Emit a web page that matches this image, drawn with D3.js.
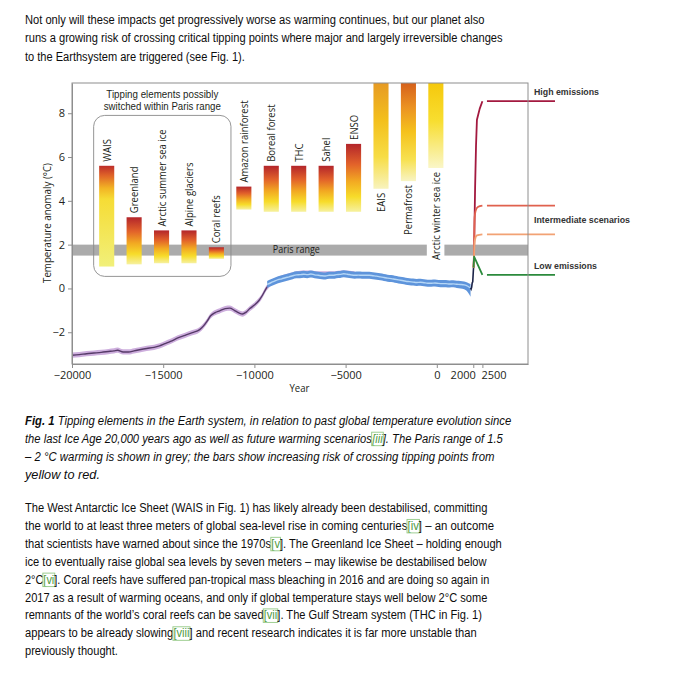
<!DOCTYPE html>
<html><head><meta charset="utf-8">
<script src="https://cdn.jsdelivr.net/npm/d3@7"></script>
<style>
html,body{margin:0;padding:0;background:#fff;}
svg{display:block;}
</style></head><body>
<svg id="page" width="680" height="676"></svg>
<script>
// ---------------- DATA ----------------
const barNames = ["WAIS","Greenland","Arctic summer sea ice","Alpine glaciers","Coral reefs","Amazon rainforest","Boreal forest","THC","Sahel","ENSO","EAIS","Permafrost","Arctic winter sea ice"];
const barLow  = [1.0, 1.1, 1.15, 1.15, 1.35, 3.6, 3.5, 3.5, 3.5, 3.5, 4.55, 4.9, 5.5];
const barHigh = [5.6, 3.25, 2.65, 2.65, 1.88, 4.65, 5.6, 5.6, 5.6, 6.6, 9.4, 9.4, 9.4];
const barGradient = ["wais","std","std","std","std","std","std","std","std","std","eais","perma","arctic"];
const barLabelBelow = [false,false,false,false,false,false,false,false,false,false,true,true,true];
const parisGroup = ["WAIS","Greenland","Arctic summer sea ice","Alpine glaciers","Coral reefs"];

const xTicks = [-20000,-15000,-10000,-5000,0,2000,2500];
const yTicks = [-2,0,2,4,6,8];
const parisRange = [1.5, 2.0];

// Shakun-type reconstruction [year, temp, sigma]
const shakun = [[-20000,-3.05,0.12],[-19600,-3.02,0.12],[-19200,-2.98,0.12],[-18800,-2.95,0.12],[-18400,-2.92,0.12],[-18000,-2.88,0.12],[-17700,-2.85,0.12],[-17500,-2.82,0.12],[-17200,-2.9,0.12],[-16900,-2.9,0.12],[-16600,-2.85,0.12],[-16300,-2.8,0.12],[-15900,-2.74,0.12],[-15500,-2.69,0.12],[-15200,-2.62,0.12],[-14900,-2.52,0.12],[-14600,-2.42,0.12],[-14200,-2.26,0.12],[-13800,-2.14,0.12],[-13400,-2.02,0.12],[-13000,-1.88,0.12],[-12800,-1.72,0.12],[-12600,-1.5,0.12],[-12400,-1.25,0.12],[-12150,-1.1,0.12],[-11900,-1.02,0.12],[-11600,-0.92,0.12],[-11350,-0.9,0.12],[-11100,-1.0,0.12],[-10850,-1.12,0.12],[-10650,-1.17,0.12],[-10450,-1.08,0.12],[-10250,-0.92,0.12],[-10000,-0.76,0.12],[-9750,-0.55,0.12],[-9550,-0.3,0.12],[-9350,0.0,0.12],[-9150,0.2,0.12],[-8800,0.38,0.12],[-8400,0.5,0.12],[-8000,0.6,0.12],[-7600,0.68,0.12],[-7200,0.7,0.12],[-6800,0.69,0.12],[-6400,0.66,0.12],[-6000,0.66,0.12],[-5600,0.67,0.12],[-5200,0.7,0.12],[-4800,0.69,0.12],[-4500,0.66,0.12]];

// Marcott-type reconstruction [year, temp, sigmaLow, sigmaHigh]
const marcott = [[-9300,0.18,0.16,0.16],[-9100,0.26,0.16,0.16],[-8900,0.33,0.16,0.16],[-8700,0.4,0.16,0.16],[-8500,0.44,0.16,0.16],[-8300,0.49,0.16,0.16],[-8100,0.53,0.16,0.16],[-7900,0.58,0.16,0.16],[-7700,0.62,0.16,0.16],[-7500,0.63,0.16,0.16],[-7300,0.65,0.16,0.16],[-7100,0.63,0.16,0.16],[-6900,0.66,0.16,0.16],[-6700,0.62,0.16,0.16],[-6500,0.6,0.16,0.16],[-6300,0.58,0.16,0.16],[-6100,0.57,0.16,0.16],[-5900,0.6,0.16,0.16],[-5700,0.6,0.16,0.16],[-5500,0.63,0.16,0.16],[-5300,0.64,0.16,0.16],[-5100,0.67,0.16,0.16],[-4900,0.65,0.16,0.16],[-4700,0.62,0.16,0.16],[-4500,0.6,0.16,0.16],[-4300,0.61,0.16,0.16],[-4100,0.6,0.16,0.16],[-3900,0.6,0.16,0.16],[-3700,0.6,0.16,0.16],[-3500,0.58,0.16,0.16],[-3300,0.56,0.16,0.16],[-3100,0.53,0.16,0.16],[-2900,0.5,0.16,0.16],[-2700,0.47,0.16,0.16],[-2500,0.45,0.16,0.16],[-2300,0.42,0.16,0.16],[-2100,0.39,0.16,0.16],[-1900,0.36,0.16,0.16],[-1700,0.33,0.16,0.16],[-1500,0.31,0.16,0.16],[-1300,0.29,0.16,0.16],[-1100,0.27,0.16,0.16],[-900,0.28,0.16,0.16],[-700,0.26,0.16,0.16],[-500,0.24,0.16,0.16],[-300,0.24,0.16,0.16],[-100,0.25,0.16,0.16],[100,0.23,0.16,0.16],[300,0.22,0.16,0.16],[500,0.22,0.16,0.16],[700,0.2,0.16,0.16],[900,0.21,0.16,0.16],[1100,0.19,0.17,0.16],[1300,0.18,0.18,0.16],[1500,0.16,0.2,0.16],[1700,0.1,0.27,0.16],[1850,0.02,0.4,0.18]];

// instrumental record [year, temp]
const instrumental = [[1850,0.02],[1880,-0.03],[1910,0.05],[1940,0.25],[1970,0.3],[2000,0.75],[2015,0.95]];

// future scenarios [year, temp]
const scenarioNames  = ["High emissions","Intermediate (upper)","Intermediate (lower)","Low emissions"];
const scenarioColors = ["#a3193f","#e0614e","#f2a274","#2b8a3c"];
const scenarioHigh  = [[2015,0.95],[2040,1.6],[2060,2.6],[2100,4.6],[2150,6.5],[2200,7.7],[2350,8.2],[2500,8.55]];
const scenarioUpper = [[2015,0.95],[2045,1.7],[2060,2.7],[2075,3.25],[2130,3.55],[2250,3.72],[2500,3.78]];
const scenarioLower = [[2015,0.95],[2045,1.5],[2060,1.95],[2090,2.22],[2200,2.42],[2500,2.47]];
const scenarioLow   = [[2015,0.95],[2045,1.45],[2500,0.62]];
const legendYears = [2750, 6480];
const scenarioLabels = ["High emissions","Intermediate scenarios","Low emissions"];

// text
const topLines = [
 "Not only will these impacts get progressively worse as warming continues, but our planet also",
 "runs a growing risk of crossing critical tipping points where major and largely irreversible changes",
 "to the Earthsystem are triggered (see Fig. 1)."];
const topWidths = [460, 478, 220];
const captionLines = [
 "**Fig. 1** Tipping elements in the Earth system, in relation to past global temperature evolution since",
 "the last Ice Age 20,000 years ago as well as future warming scenarios[[[iii]]]. The Paris range of 1.5",
 "– 2 °C warming is shown in grey; the bars show increasing risk of crossing tipping points from",
 "yellow to red."];
const captionWidths = [487, 478, 470, 75];
const bodyLines = [
 "The West Antarctic Ice Sheet (WAIS in Fig. 1) has likely already been destabilised, committing",
 "the world to at least three meters of global sea-level rise in coming centuries[[[iv]]] – an outcome",
 "that scientists have warned about since the 1970s[[[v]]]. The Greenland Ice Sheet – holding enough",
 "ice to eventually raise global sea levels by seven meters – may likewise be destabilised below",
 "2°C[[[vi]]]. Coral reefs have suffered pan-tropical mass bleaching in 2016 and are doing so again in",
 "2017 as a result of warming oceans, and only if global temperature stays well below 2°C some",
 "remnants of the world’s coral reefs can be saved[[[vii]]]. The Gulf Stream system (THC in Fig. 1)",
 "appears to be already slowing[[[viii]]] and recent research indicates it is far more unstable than",
 "previously thought."];
const bodyWidths = [463, 469, 477, 462, 465, 463, 457, 452, 93];

// ---------------- STYLE ----------------
const bodyFont = "'Liberation Sans', Arial, Helvetica, sans-serif";
const chartFont = "'Open Sans', 'Noto Sans', sans-serif";
const inkColor = "#231f20";
const axisGray = "#8e8e8e";
const linkColor = "#4f9b3f";
const linkBox = "#93c985";
const gradients = {
  std:   [[0,'#b3252b'],[0.3,'#e2622a'],[0.55,'#f2a922'],[0.78,'#f7dc2a'],[1,'#f6f1a0']],
  wais:  [[0,'#bd2d2a'],[0.1,'#e06628'],[0.22,'#f2b324'],[0.33,'#f6dc35'],[1,'#f1f07a']],
  eais:  [[0,'#e69a24'],[0.35,'#f3bf1c'],[0.7,'#f7dd45'],[1,'#f8f3bd']],
  perma: [[0,'#d5601c'],[0.25,'#eb9222'],[0.5,'#f5c21c'],[0.78,'#f7e150'],[1,'#f8f4c4']],
  arctic:[[0,'#f5c80c'],[0.45,'#f8de30'],[1,'#faf6c8']]
};

// ---------------- DRAW ----------------
const svg = d3.select('#page');
svg.append('rect').attr('width',680).attr('height',676).attr('fill','#fff');
const defs = svg.append('defs');
Object.entries(gradients).forEach(([id, stops]) => {
  const g = defs.append('linearGradient').attr('id','g-'+id).attr('x1',0).attr('y1',0).attr('x2',0).attr('y2',1);
  stops.forEach(([o,c]) => g.append('stop').attr('offset',o).attr('stop-color',c));
});

const x = d3.scaleLinear().domain([-20000, 5000]).range([72, 528]);
const y = d3.scaleLinear().domain([-3.45, 9.38]).range([364, 83]);
const band = d3.scaleBand().domain(barNames).range([x(-18850), x(700)]).paddingInner(0.45).paddingOuter(0.225);

defs.append('clipPath').attr('id','plotclip').append('rect')
  .attr('x', x.range()[0]).attr('y', y.range()[1]).attr('width', x.range()[1]-x.range()[0]).attr('height', y.range()[0]-y.range()[1]);

// text helpers
function parseSegs(str){
  return str.split(/(\*\*.*?\*\*|\[\[.*?\]\])/).filter(s=>s.length).map(s=>{
    if (s.startsWith('**')) return {t:s.slice(2,-2), bold:true};
    if (s.startsWith('[[')) return {t:s.slice(2,-2), link:true};
    return {t:s};
  });
}
const FS = 13.5;
function drawLine(parent, str, x0, y0, width, italic){
  const segs = parseSegs(str);
  const m = parent.append('text').attr('x',x0).attr('y',y0)
    .attr('font-family', bodyFont).attr('font-size', FS).style('white-space','pre');
  if (italic) m.attr('font-style','italic');
  segs.forEach(s => { const ts = m.append('tspan').text(s.t); if (s.bold) ts.attr('font-weight','bold'); });
  const node = m.node();
  const natural = node.getComputedTextLength();
  const k = width / natural;
  const pieces = [];
  let idx = 0;
  segs.forEach(s => {
    const lead = s.t.length - s.t.replace(/^\s+/,'').length;
    const trimmed = s.t.trim();
    if (trimmed.length) {
      const st = idx + lead;
      const a = st > 0 ? node.getSubStringLength(0, st) : 0;
      const w = node.getSubStringLength(st, trimmed.length);
      pieces.push({t: trimmed, a, w, bold: s.bold, link: s.link});
    }
    idx += s.t.length;
  });
  m.remove();
  pieces.forEach(p => {
    const t = parent.append('text')
      .attr('transform', `translate(${x0 + p.a*k},${y0}) scale(${k},1)`)
      .attr('font-family', bodyFont).attr('font-size', FS).attr('fill', p.link ? linkColor : '#0d0d0d')
      .text(p.t);
    if (italic) t.attr('font-style','italic');
    if (p.bold) t.attr('font-weight','bold');
    if (p.link) {
      parent.append('rect').attr('x', x0 + p.a*k - 0.5).attr('y', y0 - 10.5)
        .attr('width', p.w*k + 1).attr('height', 13.5)
        .attr('fill','none').attr('stroke', linkBox).attr('stroke-width', 0.9);
    }
  });
}
function fit(sel, width){ sel.attr('textLength', width).attr('lengthAdjust','spacingAndGlyphs'); return sel; }

const textG = svg.append('g');
topLines.forEach((l,i) => drawLine(textG, l, 25, 24 + i*18.3, topWidths[i], false));
captionLines.forEach((l,i) => drawLine(textG, l, 25, 424.5 + i*18.2, captionWidths[i], true));
bodyLines.forEach((l,i) => drawLine(textG, l, 25, 512 + i*17.9, bodyWidths[i], false));

// ---- chart ----
const chart = svg.append('g');
const plot = chart.append('g').attr('clip-path','url(#plotclip)');

// Paris band (gap around the Arctic winter sea ice label)
const gapName = "Arctic winter sea ice";
const gx0 = band(gapName) - 1.5, gx1 = band(gapName) + band.bandwidth() + 1;
plot.append('rect').attr('x', x.range()[0]).attr('y', y(parisRange[1]))
  .attr('width', gx0 - x.range()[0]).attr('height', y(parisRange[0]) - y(parisRange[1])).attr('fill','#ababab');
plot.append('rect').attr('x', gx1).attr('y', y(parisRange[1]))
  .attr('width', x.range()[1] - gx1).attr('height', y(parisRange[0]) - y(parisRange[1])).attr('fill','#ababab');
chart.append('text').attr('x', x(-7700)).attr('y', y(parisRange[0]) - 2.5)
  .attr('text-anchor','middle').attr('font-family', chartFont).attr('font-size', 11).attr('fill', inkColor)
  .text('Paris range').call(fit, 47);

// Rounded box around Paris-range tipping elements
const bx0 = band(parisGroup[0]) - 5.5;
const bx1 = band(parisGroup[parisGroup.length-1]) + band.bandwidth() + 7;
chart.append('rect').attr('x', bx0).attr('y', y(7.9)).attr('width', bx1 - bx0).attr('height', y(0.55) - y(7.9))
  .attr('rx', 11).attr('ry', 11).attr('fill','none').attr('stroke','#8a8a8a').attr('stroke-width',0.9);
const bcx = (bx0 + bx1)/2;
chart.append('text').attr('x', bcx).attr('y', 98).attr('text-anchor','middle')
  .attr('font-family', bodyFont).attr('font-size', 10).attr('fill', inkColor)
  .text('Tipping elements possibly').call(fit, 112);
chart.append('text').attr('x', bcx).attr('y', 109.6).attr('text-anchor','middle')
  .attr('font-family', bodyFont).attr('font-size', 10).attr('fill', inkColor)
  .text('switched within Paris range').call(fit, 117);

// Bars
barNames.forEach((n,i) => {
  plot.append('rect').attr('x', band(n)).attr('width', band.bandwidth())
    .attr('y', y(barHigh[i])).attr('height', y(barLow[i]) - y(barHigh[i]))
    .attr('fill', `url(#g-${barGradient[i]})`);
});
// Bar labels (condensed)
const labelG = chart.append('g');
let refLen = null;
{
  const probe = labelG.append('text').attr('font-family', chartFont).attr('font-size', 11.5).text('Arctic summer sea ice');
  refLen = probe.node().getComputedTextLength();
  probe.remove();
}
const labelK = 97 / refLen;
barNames.forEach((n,i) => {
  const cx = band(n) + band.bandwidth()/2 + 4;
  const below = barLabelBelow[i];
  const yy = below ? y(barLow[i]) + 4 : y(barHigh[i]) - 4;
  const t = labelG.append('text')
    .attr('transform', `translate(${cx},${yy}) rotate(-90)`)
    .attr('text-anchor', below ? 'end' : 'start')
    .attr('font-family', chartFont).attr('font-size', 11.5).attr('fill', inkColor).text(n);
  const L = t.node().getComputedTextLength();
  t.call(fit, L * labelK);
});

// Reconstructions
const shakunArea = d3.area().x(d=>x(d[0])).y0(d=>y(d[1]-d[2])).y1(d=>y(d[1]+d[2])).curve(d3.curveMonotoneX);
const shakunLine = d3.line().x(d=>x(d[0])).y(d=>y(d[1])).curve(d3.curveMonotoneX);
plot.append('path').attr('d', shakunArea(shakun)).attr('fill','#cdaedd');
plot.append('path').attr('d', shakunLine(shakun)).attr('fill','none').attr('stroke','#563a68').attr('stroke-width',1.4);

const marcottArea = d3.area().x(d=>x(d[0])).y0(d=>y(d[1]-d[2])).y1(d=>y(d[1]+d[3])).curve(d3.curveMonotoneX);
plot.append('path').attr('d', marcottArea(marcott)).attr('fill','#5e94db');
plot.append('path').attr('d', shakunLine(marcott)).attr('fill','none').attr('stroke','#b6d7f6').attr('stroke-width',1.4);

plot.append('path').attr('d', d3.line().x(d=>x(d[0])).y(d=>y(d[1]))(instrumental))
  .attr('fill','none').attr('stroke','#1b2348').attr('stroke-width',1.6);

// Scenarios
const scenarios = [scenarioHigh, scenarioUpper, scenarioLower, scenarioLow];
const scenLine = d3.line().x(d=>x(d[0])).y(d=>y(d[1]));
const scenCurve = d3.line().x(d=>x(d[0])).y(d=>y(d[1])).curve(d3.curveMonotoneX);
scenarios.forEach((s,i) => {
  chart.append('path').attr('d', (i===1||i===2 ? scenCurve : scenLine)(s))
    .attr('fill','none').attr('stroke', scenarioColors[i]).attr('stroke-width', 1.8)
    .attr('stroke-linejoin','round');
});
// legend lines beyond 2500
scenarios.forEach((s,i) => {
  const v = s[s.length-1][1];
  chart.append('line').attr('x1', x(legendYears[0])).attr('x2', x(legendYears[1]))
    .attr('y1', y(v)).attr('y2', y(v)).attr('stroke', scenarioColors[i]).attr('stroke-width', 1.8);
});
const lblX = x.range()[1] + 6;
const endV = scenarios.map(s => s[s.length-1][1]);
const lblY = [y(endV[0]) - 6, (y(endV[1]) + y(endV[2]))/2 + 3, y(endV[3]) - 6];
const lblW = [65, 96, 63];
scenarioLabels.forEach((t,i) => {
  chart.append('text').attr('x', lblX).attr('y', lblY[i])
    .attr('font-family', bodyFont).attr('font-weight','bold').attr('font-size', 9.3).attr('fill','#333')
    .text(t).call(fit, lblW[i]);
});

// Frame
chart.append('rect').attr('x', x.range()[0]).attr('y', y.range()[1])
  .attr('width', x.range()[1]-x.range()[0]).attr('height', y.range()[0]-y.range()[1])
  .attr('fill','none').attr('stroke', axisGray).attr('stroke-width',1);

// Axes
const fmt = d3.format('d');
const yAxisG = chart.append('g').attr('transform', `translate(${x.range()[0]},0)`)
  .call(d3.axisLeft(y).tickValues(yTicks).tickSize(4).tickSizeOuter(0).tickPadding(3).tickFormat(fmt));
const xAxisG = chart.append('g').attr('transform', `translate(0,${y.range()[0]})`)
  .call(d3.axisBottom(x).tickValues(xTicks).tickSize(4).tickSizeOuter(0).tickPadding(3).tickFormat(fmt));
[yAxisG, xAxisG].forEach(g => {
  g.select('.domain').attr('stroke', axisGray);
  g.selectAll('.tick line').attr('stroke', axisGray);
  g.selectAll('.tick text').attr('fill', inkColor).attr('font-family', chartFont).attr('font-size', 11);
});
xAxisG.selectAll('.tick text').each(function(d){
  if (d === 2000) d3.select(this).attr('text-anchor','end').attr('x', 2);
  if (d === 2500) d3.select(this).attr('text-anchor','start').attr('x', -1.5);
});

chart.append('text').attr('x', 299.5).attr('y', 392).attr('text-anchor','middle')
  .attr('font-family', chartFont).attr('font-size', 11).attr('fill', inkColor).text('Year').call(fit, 20);
chart.append('text').attr('transform', `translate(50.5,${(y.range()[0]+y.range()[1])/2 - 0.5}) rotate(-90)`)
  .attr('text-anchor','middle').attr('font-family', chartFont).attr('font-size', 11).attr('fill', inkColor)
  .text('Temperature anomaly (°C)').call(fit, 120);
</script>
</body></html>
